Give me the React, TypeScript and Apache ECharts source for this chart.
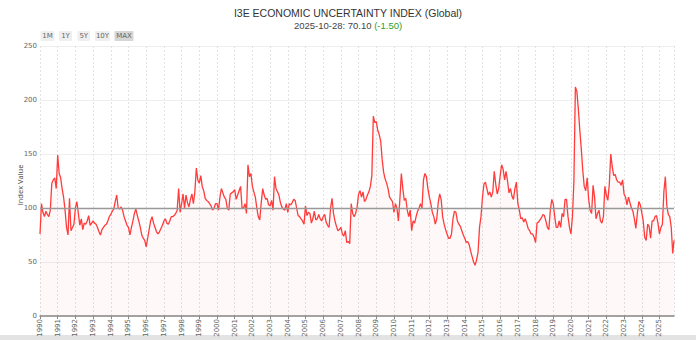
import React, { useEffect, useRef } from "react";
import * as echarts from "echarts";

const titleText = "I3E ECONOMIC UNCERTAINTY INDEX (Global)";
const lastDateLabel = "2025-10-28";
const lastValue = 70.1;
const lastChange = -1.5;
const lastDateFraction = 2025.822; // 2025-10-28 as a fraction of the year
const startYear = 1990;
const rangeButtons = ["1M", "1Y", "5Y", "10Y", "MAX"];
const referenceLevel = 100;

// Monthly readings (first of each month), one row per year, 1990-01 .. 2025-10
const monthlyValues: number[] = [
  /* 1990 */ 76, 104, 96, 92, 97, 94, 92, 98, 123, 126, 128, 118,
  /* 1991 */ 149, 132, 128, 118, 110, 98, 82, 75, 109, 79, 82, 85,
  /* 1992 */ 100, 106, 95, 84, 90, 80, 86, 85, 88, 93, 84, 86,
  /* 1993 */ 88, 86, 85, 82, 78, 75, 80, 82, 84, 85, 88, 92,
  /* 1994 */ 94, 97, 99, 106, 112, 100, 99, 101, 98, 92, 88, 84,
  /* 1995 */ 82, 75, 82, 88, 95, 99, 93, 88, 82, 75, 72, 70,
  /* 1996 */ 64, 72, 80, 88, 92, 86, 82, 78, 76, 78, 81, 84,
  /* 1997 */ 88, 90, 86, 85, 88, 92, 92, 93, 95, 98, 118, 96,
  /* 1998 */ 104, 113, 100, 112, 105, 101, 108, 113, 104, 115, 137, 126,
  /* 1999 */ 123, 130, 120, 116, 109, 107, 106, 104, 102, 98, 100, 104,
  /* 2000 */ 104, 98, 110, 118, 114, 110, 108, 100, 98, 113, 114, 115,
  /* 2001 */ 117, 108, 112, 116, 120, 100, 100, 104, 95, 140, 129, 132,
  /* 2002 */ 120, 115, 110, 100, 92, 89, 105, 118, 112, 108, 109, 103,
  /* 2003 */ 102, 107, 98, 129, 118, 115, 112, 105, 101, 99, 98, 104,
  /* 2004 */ 96, 104, 103, 105, 108, 107, 100, 93, 92, 90, 88, 85,
  /* 2005 */ 102, 93, 96, 95, 86, 90, 97, 89, 90, 94, 90, 88,
  /* 2006 */ 92, 94, 87, 84, 82, 100, 109, 95, 88, 83, 79, 80,
  /* 2007 */ 82, 76, 74, 79, 68, 69, 67, 104, 95, 92, 95, 101,
  /* 2008 */ 113, 116, 110, 115, 106, 108, 112, 115, 120, 130, 185, 179,
  /* 2009 */ 180, 172, 168, 162, 145, 133, 127, 123, 118, 110, 108, 106,
  /* 2010 */ 96, 104, 100, 88, 108, 132, 118, 107, 109, 98, 92, 98,
  /* 2011 */ 79, 88, 86, 92, 97, 100, 104, 100, 126, 132, 129, 118,
  /* 2012 */ 110, 104, 96, 92, 85, 90, 105, 113, 108, 92, 85, 80,
  /* 2013 */ 76, 72, 72, 76, 90, 97, 96, 88, 85, 83, 79, 75,
  /* 2014 */ 72, 68, 69, 66, 60, 55, 50, 47, 52, 59, 82, 92,
  /* 2015 */ 110, 122, 124, 118, 112, 115, 110, 115, 134, 122, 113, 118,
  /* 2016 */ 130, 140, 136, 126, 134, 125, 114, 118, 111, 108, 118, 124,
  /* 2017 */ 104, 98, 90, 91, 87, 90, 86, 81, 79, 76, 76, 73,
  /* 2018 */ 68, 86, 87, 89, 91, 94, 93, 88, 82, 80, 98, 108,
  /* 2019 */ 104, 92, 82, 82, 88, 82, 95, 92, 108, 108, 92, 82,
  /* 2020 */ 76, 92, 125, 212, 208, 192, 172, 155, 135, 120, 116, 128,
  /* 2021 */ 108, 98, 95, 121, 110, 90, 95, 98, 88, 86, 92, 120,
  /* 2022 */ 112, 107, 122, 150, 138, 130, 131, 126, 124, 124, 121, 126,
  /* 2023 */ 113, 110, 103, 110, 105, 100, 97, 90, 81, 95, 106, 103,
  /* 2024 */ 96, 88, 73, 70, 85, 83, 72, 88, 88, 92, 93, 86,
  /* 2025 */ 76, 82, 85, 115, 129, 102, 94, 92, 82, 58,
];

const yTicks = [0, 50, 100, 150, 200, 250];

export default function App() {
  const ref = useRef<HTMLDivElement>(null);

  useEffect(() => {
    if (!ref.current) return;
    const chart = echarts.init(ref.current, undefined, { renderer: "svg" });

    const seriesData: [number, number][] = monthlyValues.map((v, i) => [
      startYear + i / 12,
      v,
    ]);
    seriesData.push([lastDateFraction, lastValue]);

    const btnX = [40.5, 59, 77.5, 95, 114.5];
    const btnW = [14, 13, 12.5, 15, 19];
    const buttons: any[] = [];
    rangeButtons.forEach((b, i) => {
      const active = b === "MAX";
      buttons.push({
        type: "rect",
        shape: { x: btnX[i], y: 31, width: btnW[i], height: 10, r: 1 },
        style: { fill: active ? "#d6d6d6" : "#efefef" },
        silent: true,
      });
      buttons.push({
        type: "text",
        x: btnX[i] + btnW[i] / 2,
        y: 36.3,
        style: {
          text: b,
          fontSize: 7,
          fontFamily: "DejaVu Sans",
          fill: "#666",
          align: "center",
          verticalAlign: "middle",
        },
        silent: true,
      });
    });

    const changeStr = (lastChange > 0 ? "+" : "") + lastChange.toFixed(2);

    chart.setOption({
      animation: false,
      backgroundColor: "#ffffff",
      title: {
        text: titleText,
        subtext: `${lastDateLabel}: ${lastValue.toFixed(2)} {g|(${changeStr})}`,
        left: "center",
        top: 2,
        itemGap: 2,
        textStyle: {
          fontSize: 10.5,
          fontWeight: "normal",
          color: "#333",
          fontFamily: "Liberation Sans",
        },
        subtextStyle: {
          fontSize: 9.5,
          color: "#444",
          fontFamily: "Liberation Sans",
          rich: {
            g: {
              fontSize: 9.5,
              color: "#2ca02c",
              fontFamily: "Liberation Sans",
            },
          },
        },
      },
      grid: {
        left: 40,
        right: 22,
        top: 46,
        bottom: 24,
        containLabel: false,
        outerBoundsMode: "none",
      },
      xAxis: {
        type: "value",
        min: startYear,
        max: lastDateFraction,
        interval: 1,
        axisLine: { show: true, lineStyle: { color: "#888", width: 1.5 } },
        axisTick: { show: true, length: 3, lineStyle: { color: "#888" } },
        axisLabel: {
          rotate: 90,
          fontSize: 7,
          color: "#666",
          fontFamily: "DejaVu Sans",
          margin: 3,
          showMaxLabel: false,
          formatter: (v: number) => String(Math.round(v)),
        },
        splitLine: {
          show: true,
          lineStyle: { color: "#e2e2e2", type: [2, 2], width: 1 },
        },
      },
      yAxis: {
        type: "value",
        min: 0,
        max: 250,
        interval: 50,
        name: "Index Value",
        nameLocation: "middle",
        nameGap: 16,
        nameMoveOverlap: false,
        nameRotate: 90,
        nameTextStyle: {
          fontSize: 7.5,
          color: "#444",
          fontFamily: "Open Sans",
          padding: [0, 0, 0, -8],
        },
        axisLine: { show: false },
        axisTick: { show: false },
        axisLabel: {
          fontSize: 7,
          color: "#666",
          fontFamily: "DejaVu Sans",
          margin: 3,
          formatter: (v: number) => (yTicks.includes(v) ? String(v) : ""),
        },
        splitLine: { show: true, lineStyle: { color: "#eeeeee", width: 1 } },
      },
      series: [
        {
          type: "line",
          data: seriesData,
          showSymbol: false,
          symbol: "none",
          lineStyle: { color: "#ff3b3b", width: 1.3 },
          itemStyle: { color: "#ff3b3b" },
          areaStyle: { color: "rgba(255,0,0,0.04)" },
          markLine: {
            silent: true,
            symbol: "none",
            label: { show: false },
            lineStyle: { color: "#999", type: "solid", width: 1.3 },
            data: [{ yAxis: referenceLevel }],
          },
          z: 3,
        },
      ],
      graphic: [
        ...buttons,
        {
          type: "rect",
          shape: { x: 0, y: 335, width: 696, height: 5 },
          style: { fill: "#e3e3e3" },
          silent: true,
        },
      ],
    });

    return () => chart.dispose();
  }, []);

  return (
    <div
      ref={ref}
      style={{ position: "fixed", left: 0, top: 0, width: 696, height: 340 }}
    />
  );
}
